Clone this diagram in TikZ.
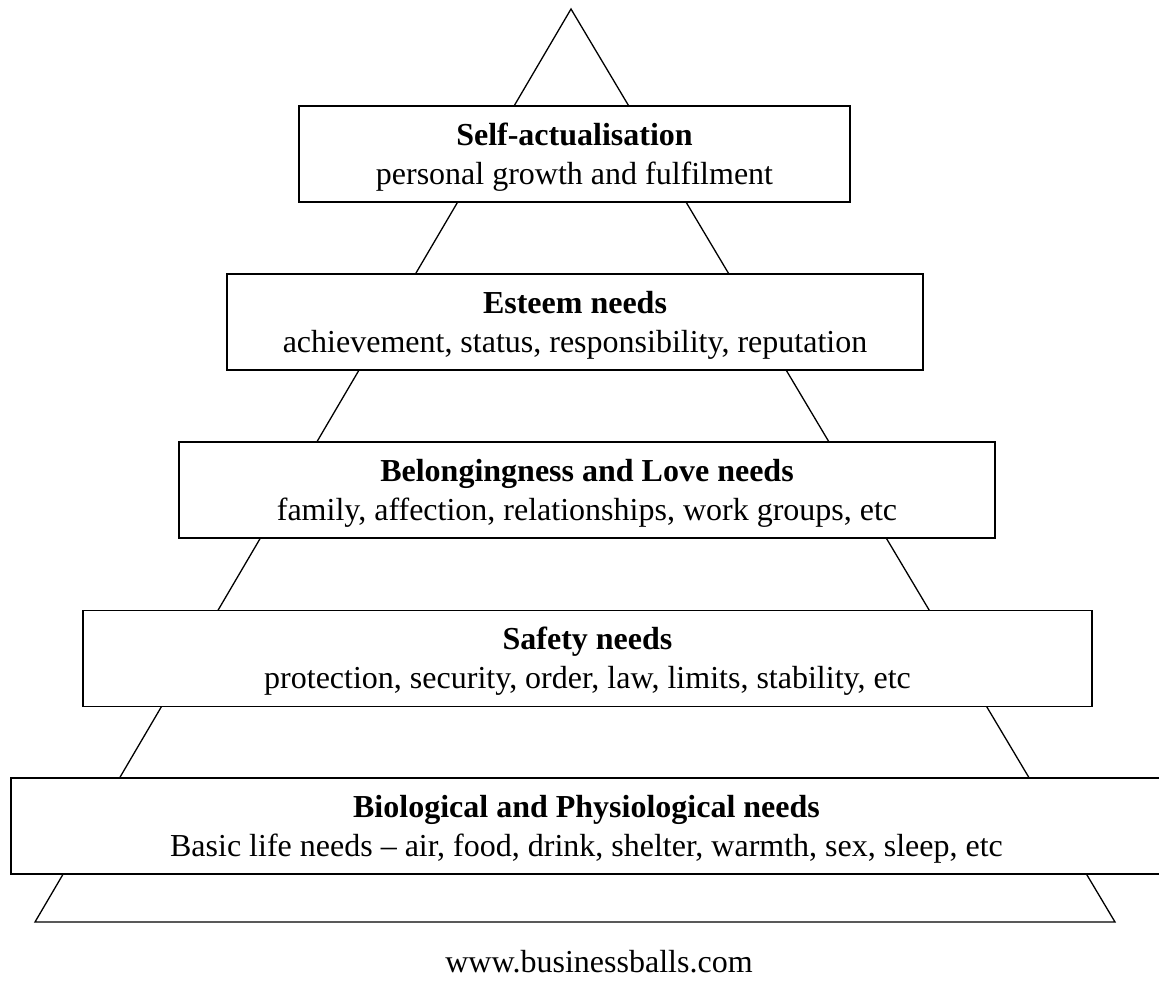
\documentclass[tikz,border=0pt]{standalone}
\usepackage{fontspec}
\setmainfont{Liberation Serif}
\newcommand{\topstrut}{\rule{0pt}{28pt}}
\begin{document}
\begin{tikzpicture}[x=1pt,y=-1pt,
  box/.style={draw, line width=1.5pt, fill=white, inner sep=0pt, align=center,
    minimum height=96pt, font=\fontsize{32}{39}\selectfont},
  side/.style={line width=1.3pt, line join=miter},
  credit/.style={anchor=base, inner sep=0pt, font=\fontsize{32}{39}\selectfont}]
\clip (0,0) rectangle (1159,988);
\coordinate (apex) at (571,9);
\coordinate (bl) at (35,922);
\coordinate (br) at (1115,922);
\draw[side] (bl) -- (apex) -- (br) -- cycle;
\node[box, minimum width=551pt] (self) at (574.5,154)
  {\topstrut\textbf{Self-actualisation}\\personal growth and fulfilment};
\node[box, minimum width=696pt] (esteem) at (575,322)
  {\topstrut\textbf{Esteem needs}\\achievement, status, responsibility, reputation};
\node[box, minimum width=816pt] (love) at (587,490)
  {\topstrut\textbf{Belongingness and Love needs}\\family, affection, relationships, work groups, etc};
\node[box, minimum width=1009pt] (safety) at (587.5,658.5)
  {\topstrut\textbf{Safety needs}\\protection, security, order, law, limits, stability, etc};
\node[box, minimum width=1151pt] (bio) at (586.5,826)
  {\topstrut\textbf{Biological and Physiological needs}\\Basic life needs -- air, food, drink, shelter, warmth, sex, sleep, etc};
\node[credit] (www) at (599,972) {www.businessballs.com};
\end{tikzpicture}
\end{document}
